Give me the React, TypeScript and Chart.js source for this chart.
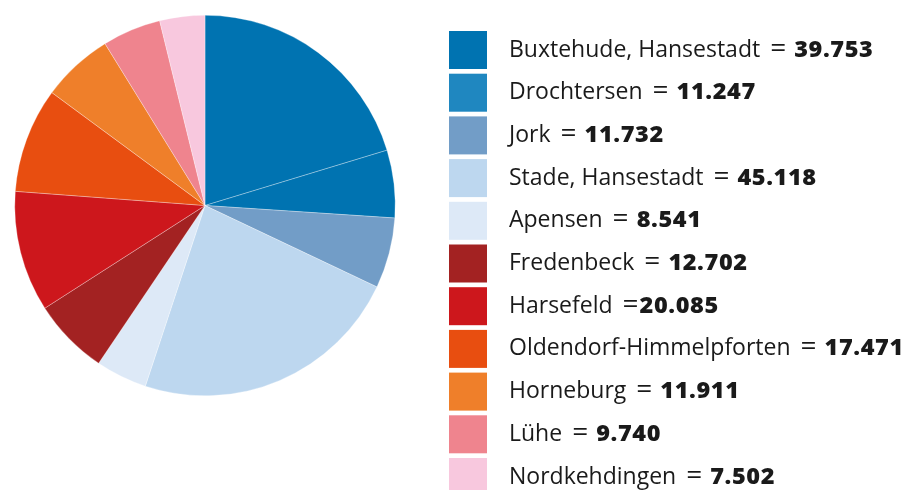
import React, { useEffect, useRef } from "react";
import { Chart, registerables } from "chart.js";

Chart.register(...registerables);

const categories = [
  "Buxtehude, Hansestadt",
  "Drochtersen",
  "Jork",
  "Stade, Hansestadt",
  "Apensen",
  "Fredenbeck",
  "Harsefeld",
  "Oldendorf-Himmelpforten",
  "Horneburg",
  "Lühe",
  "Nordkehdingen",
];
const values = [39753, 11247, 11732, 45118, 8541, 12702, 20085, 17471, 11911, 9740, 7502];
const separators = [" = ", " = ", " = ", " = ", " = ", " = ", " =", " = ", " = ", " = ", " = "];
const sliceColors = [
  "#0073B1", "#0073B1", "#729DC7", "#BDD7EF", "#DDE9F7", "#A32222",
  "#CD171C", "#E84E10", "#EF7F2A", "#EF848E", "#F8C8DE",
];
const legendColors = [
  "#0073B1", "#1F87C0", "#729DC7", "#BDD7EF", "#DDE9F7", "#A32222",
  "#CD171C", "#E84E10", "#EF7F2A", "#EF848E", "#F8C8DE",
];

const fmt = (v: number) => String(v).replace(/\B(?=(\d{3})+(?!\d))/g, ".");

const FONT_FAMILY = '"Open Sans"';
const FONT_SIZE = 23;

const legendPlugin = {
  id: "customLegend",
  afterDraw(chart: any) {
    const ctx = chart.ctx as CanvasRenderingContext2D;
    ctx.save();
    const labels = chart.data.labels as string[];
    const data = chart.data.datasets[0].data as number[];
    for (let i = 0; i < labels.length; i++) {
      const y0 = 31 + i * 42.7;
      const base = y0 + 25.5;
      ctx.fillStyle = legendColors[i];
      ctx.fillRect(449, y0, 38, 38);
      ctx.fillStyle = "#1a1a1a";
      ctx.textBaseline = "alphabetic";
      ctx.font = `400 ${FONT_SIZE}px ${FONT_FAMILY}`;
      let x = 509;
      ctx.fillText(labels[i], x, base);
      x += ctx.measureText(labels[i]).width;
      const sep = separators[i];
      for (let k = 0; k < sep.length; k++) {
        const ch = sep[k];
        if (ch === " ") {
          x += k === 0 ? 10 : 8;
        } else {
          ctx.font = `400 ${FONT_SIZE + 5}px ${FONT_FAMILY}`;
          ctx.fillText(ch, x, base);
          x += ctx.measureText(ch).width;
        }
      }
      if (!sep.endsWith(" ")) x += 1;
      ctx.font = `800 ${FONT_SIZE + 0.5}px ${FONT_FAMILY}`;
      (ctx as any).letterSpacing = "0.6px";
      ctx.fillText(fmt(data[i]), x, base);
      (ctx as any).letterSpacing = "0px";
    }
    ctx.restore();
  },
};

export default function App() {
  const ref = useRef<HTMLCanvasElement | null>(null);
  useEffect(() => {
    if (!ref.current) return;
    const chart = new Chart(ref.current, {
      type: "pie",
      data: {
        labels: categories,
        datasets: [
          {
            data: values,
            backgroundColor: sliceColors,
            borderColor: "rgba(255,255,255,0.6)",
            borderWidth: 0.5,
          },
        ],
      },
      options: {
        animation: false,
        responsive: false,
        devicePixelRatio: 1,
        layout: { padding: { left: 14, top: 15, right: 512, bottom: 94 } },
        plugins: {
          legend: { display: false },
          tooltip: { enabled: false },
        },
      },
      plugins: [legendPlugin],
    });
    return () => chart.destroy();
  }, []);
  return (
    <div style={{ position: "absolute", left: 0, top: 0, width: 908, height: 490, background: "#fff" }}>
      <canvas ref={ref} width={908} height={490} style={{ width: 908, height: 490, display: "block" }} />
    </div>
  );
}
